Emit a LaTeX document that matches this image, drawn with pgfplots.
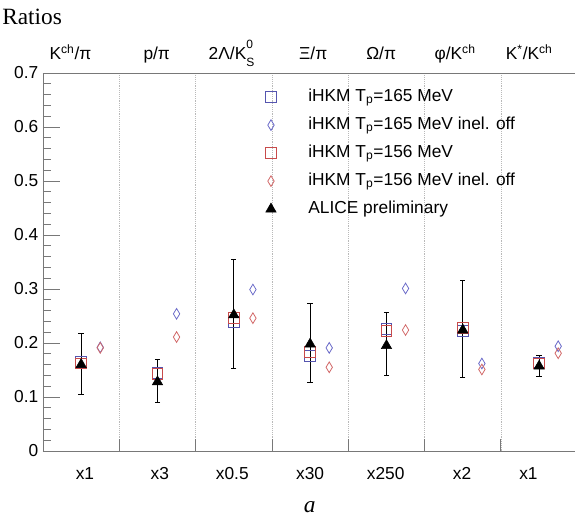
\documentclass[border=0pt]{standalone}
\usepackage{fontspec}
\setmainfont{Liberation Sans}
\newfontfamily\seriffont{Liberation Serif}
\usepackage{pgfplots}
\usepackage{pgfplotstable}
\pgfplotsset{compat=1.18}

\definecolor{cblue}{RGB}{85,85,175}
\definecolor{cred}{RGB}{200,75,75}
\definecolor{dblue}{RGB}{105,105,200}
\definecolor{dred}{RGB}{210,105,105}
\definecolor{axgray}{RGB}{120,120,120}

\pgfplotstableread{
x     y      ep     em
0.5   0.160  0.058  0.056
1.5   0.128  0.042  0.0385
2.5   0.252  0.102  0.099
3.5   0.198  0.075  0.071
4.5   0.195  0.062  0.056
5.5   0.224  0.091  0.088
6.5   0.157  0.019  0.019
}\alice

\newcommand{\lblfont}{\fontsize{13}{15}\selectfont}
\newcommand{\smallidx}{\fontsize{9}{9}\selectfont}

\begin{document}
\begin{tikzpicture}
\begin{axis}[
  at={(0,0)}, anchor=south west,
  scale only axis, width=399pt, height=283.5pt,
  xmin=0, xmax=6.97, ymin=0, ymax=0.7,
  axis lines*=left,
  axis line style={axgray, line width=0.7pt},
  every tick/.style={axgray, line width=0.7pt},
  tick align=inside,
  major tick length=12.5pt, minor tick length=6pt,
  ytick={0,0.1,0.2,0.3,0.4,0.5,0.6,0.7},
  yticklabels={0,0.1,0.2,0.3,0.4,0.5,0.6,0.7},
  minor y tick num=4,
  yticklabel style={font=\lblfont},
  xtick=\empty,
  minor xtick={0.2,0.4,0.6,0.8,1.2,1.4,1.6,1.8,2.2,2.4,2.6,2.8,3.2,3.4,3.6,3.8,4.2,4.4,4.6,4.8,5.2,5.4,5.6,5.8,6.2,6.4,6.6,6.8},
  extra x ticks={1,2,3,4,5,6},
  extra x tick labels={},
  extra x tick style={major tick length=9pt, grid=major, major grid style={densely dotted, gray!55, line width=0.6pt}},
  clip=false,
  legend cell align=left,
  legend style={at={(rel axis cs:0.4155,0.966)}, anchor=north west, draw=none, fill=none,
    inner sep=0pt, row sep=4.5pt,
    nodes={inner sep=2pt, text height=9.5pt, text depth=3pt, font=\lblfont}},
  legend image code/.code={\draw[#1] plot coordinates {(0pt,0pt)}; \path[draw=none] (-5pt,0pt) (26pt,0pt);},
]
\draw[axgray, line width=0.7pt] (rel axis cs:0,1) -- (rel axis cs:1,1);

\addplot[only marks, mark=square, mark size=4pt, color=cblue, mark options={line width=0.6pt}]
  coordinates {(0.5,0.165) (1.5,0.145) (2.5,0.239) (3.5,0.176) (4.5,0.226) (5.5,0.222) (6.5,0.164)};
\addlegendentry{iHKM T\textsubscript{p}=165 MeV}
\addplot[only marks, mark=diamond, mark size=4pt, color=dblue, mark options={line width=0.6pt, xscale=0.8}]
  coordinates {(0.75,0.192) (1.75,0.254) (2.75,0.299) (3.75,0.191) (4.75,0.301) (5.75,0.162) (6.75,0.194)};
\addlegendentry{iHKM T\textsubscript{p}=165 MeV inel. off}
\addplot[only marks, mark=square, mark size=4pt, color=cred, mark options={line width=0.6pt}]
  coordinates {(0.5,0.162) (1.5,0.143) (2.5,0.246) (3.5,0.183) (4.5,0.223) (5.5,0.228) (6.5,0.162)};
\addlegendentry{iHKM T\textsubscript{p}=156 MeV}
\addplot[only marks, mark=diamond, mark size=4pt, color=dred, mark options={line width=0.6pt, xscale=0.8}]
  coordinates {(0.75,0.191) (1.75,0.211) (2.75,0.246) (3.75,0.155) (4.75,0.224) (5.75,0.151) (6.75,0.181)};
\addlegendentry{iHKM T\textsubscript{p}=156 MeV inel. off}
\addplot[only marks, mark=triangle*, mark size=4.5pt, color=black,
  error bars/.cd, y dir=both, y explicit,
  error bar style={black, line width=0.7pt},
  error mark options={rotate=90, mark size=2pt, black, line width=0.7pt}]
  table[x=x, y=y, y error plus=ep, y error minus=em] {\alice};
\addlegendentry{ALICE preliminary}

% category names on top
\node[anchor=base, font=\lblfont] at (axis cs:0.36,0.7) [yshift=10pt] {K\textsuperscript{ch}/π};
\node[anchor=base, font=\lblfont] at (axis cs:1.49,0.7) [yshift=10pt] {p/π};
\node[anchor=base, font=\lblfont] at (axis cs:2.47,0.7) [yshift=10pt] {2Λ/K\rlap{\raisebox{0.62em}{\smallidx 0}}\raisebox{-0.42em}{\smallidx S}};
\node[anchor=base, font=\lblfont] at (axis cs:3.54,0.7) [yshift=10pt] {Ξ/π};
\node[anchor=base, font=\lblfont] at (axis cs:4.43,0.7) [yshift=10pt] {Ω/π};
\node[anchor=base, font=\lblfont] at (axis cs:5.40,0.7) [yshift=10pt] {φ/K\textsuperscript{ch}};
\node[anchor=base, font=\lblfont] at (axis cs:6.37,0.7) [yshift=10pt] {K\textsuperscript{*}/K\textsuperscript{ch}};

% scale factors below
\node[anchor=base, font=\lblfont] at (axis cs:0.55,0) [yshift=-21pt] {x1};
\node[anchor=base, font=\lblfont] at (axis cs:1.53,0) [yshift=-21pt] {x3};
\node[anchor=base, font=\lblfont] at (axis cs:2.48,0) [yshift=-21pt] {x0.5};
\node[anchor=base, font=\lblfont] at (axis cs:3.5,0) [yshift=-21pt] {x30};
\node[anchor=base, font=\lblfont] at (axis cs:4.49,0) [yshift=-21pt] {x250};
\node[anchor=base, font=\lblfont] at (axis cs:5.49,0) [yshift=-21pt] {x2};
\node[anchor=base, font=\lblfont] at (axis cs:6.36,0) [yshift=-21pt] {x1};
\end{axis}
\node[anchor=base west, inner sep=0pt, font=\seriffont\fontsize{17.5}{20}\selectfont] at (-30.75pt,319.5pt) {Ratios};
\node[anchor=base, inner sep=0pt, font=\seriffont\itshape\fontsize{17.5}{20}\selectfont] at (200pt,-46pt) {a};
\pgfresetboundingbox
\useasboundingbox (-32.25pt,-52.5pt) rectangle (399pt,338.25pt);
\end{tikzpicture}
\end{document}
